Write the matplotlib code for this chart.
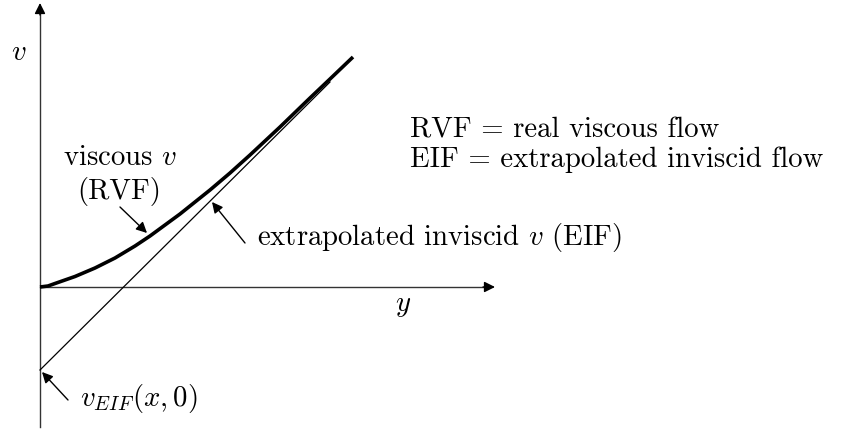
import matplotlib.pyplot as plt

plt.rcParams['font.family'] = 'cmr10'
plt.rcParams['mathtext.fontset'] = 'cm'
plt.rcParams['axes.unicode_minus'] = False

# viscous velocity profile v(y) (thick curve), in plot units
visc_y = [0, 0.08, 0.15, 0.35, 0.55, 0.75, 0.95, 1.10, 1.40, 1.70, 1.90, 2.10, 2.40, 2.70, 2.90, 3.13]
visc_v = [0, 0.01, 0.035, 0.105, 0.19, 0.29, 0.41, 0.51, 0.73, 0.97, 1.14, 1.32, 1.60, 1.89, 2.08, 2.30]

# extrapolated inviscid line, starting at v_EIF(x,0)
eif_y = [0, 2.9]
eif_v = [-0.83, 2.05]

# axis extents
v_axis = [-1.40, 2.84]
y_axis = [0, 4.55]

fig = plt.figure(figsize=(8.42, 4.29), dpi=100)
ax = fig.add_axes([0, 0, 1, 1])
ax.set_xlim(-0.40, 8.02)
ax.set_ylim(-1.42, 2.87)
ax.axis('off')

arrow = dict(arrowstyle='-|>', color='black', lw=1.0, mutation_scale=16, shrinkA=0, shrinkB=0)

# axes with arrow heads
ax.plot([0, 0], [v_axis[0], v_axis[1] - 0.1], color='#333333', lw=1.0)
ax.annotate('', xy=(0, v_axis[1]), xytext=(0, v_axis[1] - 0.12), arrowprops=arrow)
ax.plot([y_axis[0], y_axis[1] - 0.1], [0, 0], color='#333333', lw=1.0)
ax.annotate('', xy=(y_axis[1], 0), xytext=(y_axis[1] - 0.12, 0), arrowprops=arrow)

ax.plot(eif_y, eif_v, color='black', lw=0.9)
ax.plot(visc_y, visc_v, color='black', lw=2.6, solid_capstyle='butt')

fs = 20.7
ax.text(-0.215, 2.34, r'$v$', fontsize=fs, ha='center', va='center')
ax.text(3.63, -0.19, r'$y$', fontsize=fs, ha='center', va='center')

ax.text(0.80, 1.29, r'viscous $v$', fontsize=fs, ha='center', va='center')
ax.text(0.79, 0.96, '(RVF)', fontsize=fs, ha='center', va='center')
ax.annotate('', xy=(1.07, 0.54), xytext=(0.80, 0.80), arrowprops=arrow)

ax.text(2.17, 0.50, r'extrapolated inviscid $v$ (EIF)', fontsize=fs, ha='left', va='center')
ax.annotate('', xy=(1.72, 0.85), xytext=(2.05, 0.44), arrowprops=arrow)

ax.text(3.70, 1.57, 'RVF = real viscous flow', fontsize=fs, ha='left', va='center')
ax.text(3.70, 1.27, 'EIF = extrapolated inviscid flow', fontsize=fs, ha='left', va='center')

ax.text(0.40, -1.11, r'$v_{EIF}(x,0)$', fontsize=fs, ha='left', va='center')
ax.annotate('', xy=(0.02, -0.85), xytext=(0.28, -1.13), arrowprops=arrow)

fig.savefig('out.png', dpi=100)
